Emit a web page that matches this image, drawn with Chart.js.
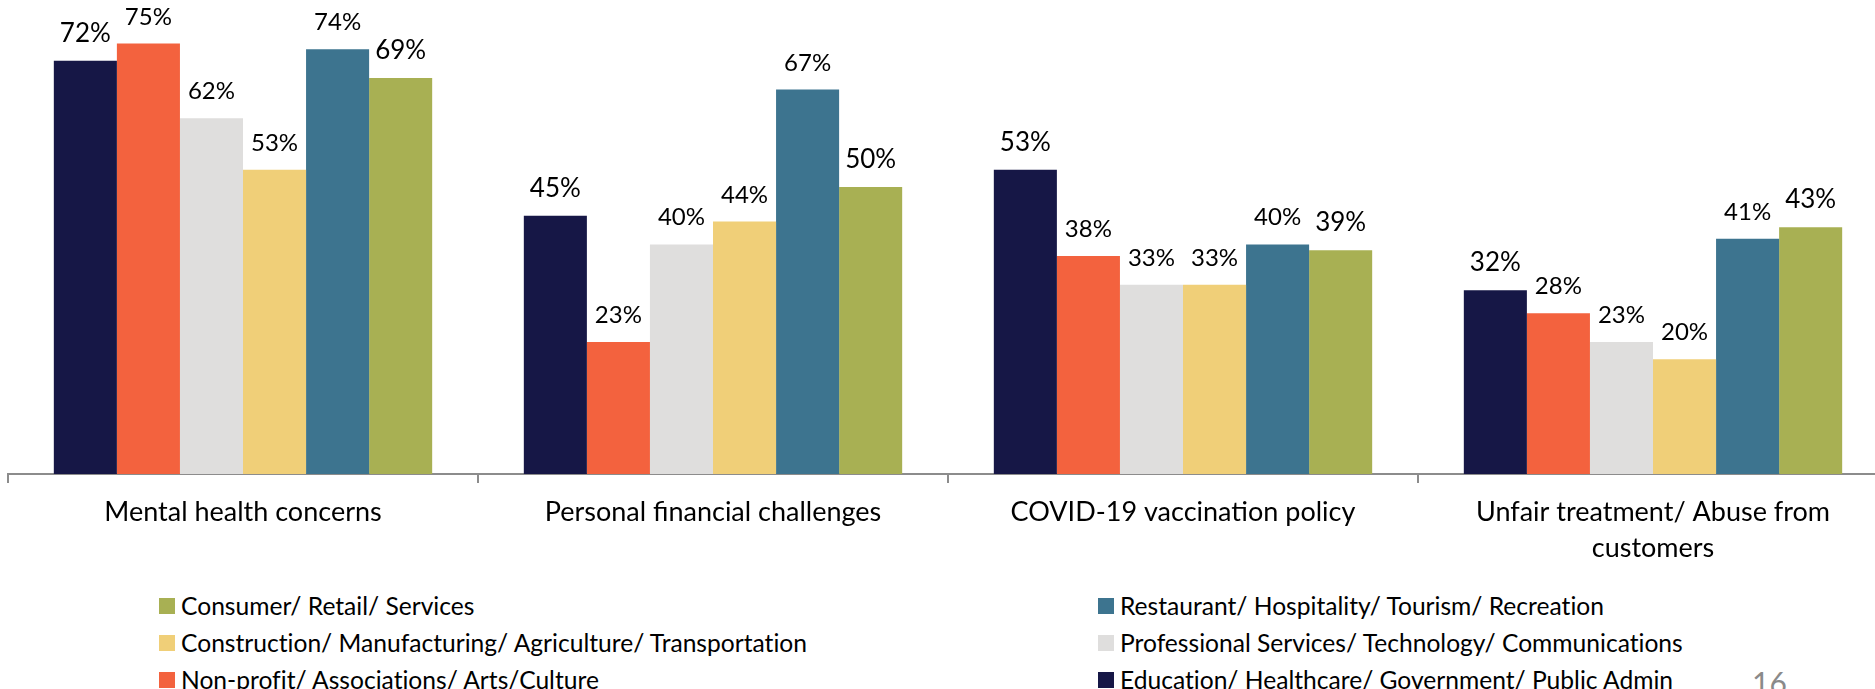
<!DOCTYPE html>
<html>
<head>
<meta charset="utf-8">
<title>Top workplace concerns by sector</title>
<script src="https://cdn.jsdelivr.net/npm/chart.js@4.4.1/dist/chart.umd.min.js"></script>
<style>
    html, body { margin: 0; padding: 0; background: #fff; overflow: hidden; width: 1875px; height: 689px; }
    #wrap { position: absolute; left: 0; top: 0; width: 1888px; height: 580px; }
    #legend { position: absolute; left: 159px; top: 587px; display: grid; grid-template-columns: 939px auto; row-gap: 0; font-family: Lato, sans-serif; font-size: 24.6px; color: #000; font-variant-ligatures: none; }
    #legend .item { display: flex; align-items: center; height: 37px; white-space: nowrap; }
    #legend .box { width: 16px; height: 16px; margin-right: 6px; flex: none; }
    #page { position: absolute; left: 1752px; top: 664px; font-family: Lato, sans-serif; font-size: 30px; color: #8a8a8a; }
</style>
</head>
<body>
<div id="wrap"><canvas id="concernChart"></canvas></div>
<div id="legend"></div>
<div id="page">16</div>

<script>
// categories along the x axis
const categories = [
    'Mental health concerns',
    'Personal financial challenges',
    'COVID-19 vaccination policy',
    ['Unfair treatment/ Abuse from', 'customers']
];

// sector names (series)
const sectors = [
    'Education/ Healthcare/ Government/ Public Admin',
    'Non-profit/ Associations/ Arts/Culture',
    'Professional Services/ Technology/ Communications',
    'Construction/ Manufacturing/ Agriculture/ Transportation',
    'Restaurant/ Hospitality/ Tourism/ Recreation',
    'Consumer/ Retail/ Services'
];

// % values per sector, in category order
const education    = [72, 45, 53, 32];
const nonProfit    = [75, 23, 38, 28];
const professional = [62, 40, 33, 23];
const construction = [53, 44, 33, 20];
const restaurant   = [74, 67, 40, 41];
const consumer     = [69, 50, 39, 43];

const seriesValues = [education, nonProfit, professional, construction, restaurant, consumer];
const colors = ['#161746', '#F3623E', '#DFDEDD', '#F0CF78', '#3D748F', '#A8B053'];
const labelSizes = [26, 24, 24, 24, 24, 26];

// draw the % label above every bar
const valueLabels = {
    id: 'valueLabels',
    afterDatasetsDraw(chart) {
        const ctx = chart.ctx;
        chart.data.datasets.forEach((ds, i) => {
            chart.getDatasetMeta(i).data.forEach((bar, j) => {
                ctx.save();
                ctx.font = `${labelSizes[i]}px Lato`;
                ctx.fillStyle = '#000';
                ctx.textAlign = 'center';
                ctx.textBaseline = 'alphabetic';
                ctx.fillText(ds.data[j] + '%', bar.x, bar.y - 19);
                ctx.restore();
            });
        });
    }
};

function buildLegend(chart) {
    const legend = document.getElementById('legend');
    legend.innerHTML = '';
    // reversed order, filled row by row in two columns
    chart.data.datasets.slice().reverse().forEach(ds => {
        const item = document.createElement('div');
        item.className = 'item';
        item.innerHTML = `<span class="box" style="background:${ds.backgroundColor}"></span>${ds.label}`;
        legend.appendChild(item);
    });
}

document.addEventListener('DOMContentLoaded', function() {
    const ctx = document.getElementById('concernChart').getContext('2d');
    window.myChart = new Chart(ctx, {
        type: 'bar',
        data: {
            labels: categories,
            datasets: sectors.map((name, i) => ({
                label: name,
                data: seriesValues[i],
                backgroundColor: colors[i],
                borderWidth: 0,
                barPercentage: 1,
                categoryPercentage: 0.805
            }))
        },
        options: {
            responsive: true,
            maintainAspectRatio: false,
            animation: false,
            layout: { padding: { left: 8, right: 0, top: 0, bottom: 0 } },
            plugins: {
                legend: { display: false },
                tooltip: { enabled: false }
            },
            scales: {
                x: {
                    grid: {
                        display: true,
                        drawOnChartArea: false,
                        drawTicks: true,
                        tickLength: 9,
                        color: '#8c8c8c',
                        lineWidth: 2,
                        offset: true
                    },
                    border: { display: true, color: '#8c8c8c', width: 2 },
                    ticks: {
                        color: '#000',
                        font: { family: 'Lato', size: 27, lineHeight: '36px' },
                        padding: 11,
                        maxRotation: 0,
                        autoSkip: false
                    },
                    afterFit(scale) { scale.height = 106; }
                },
                y: {
                    display: false,
                    min: 0,
                    max: 82.6
                }
            }
        },
        plugins: [valueLabels]
    });
    buildLegend(window.myChart);
});
</script>
</body>
</html>
